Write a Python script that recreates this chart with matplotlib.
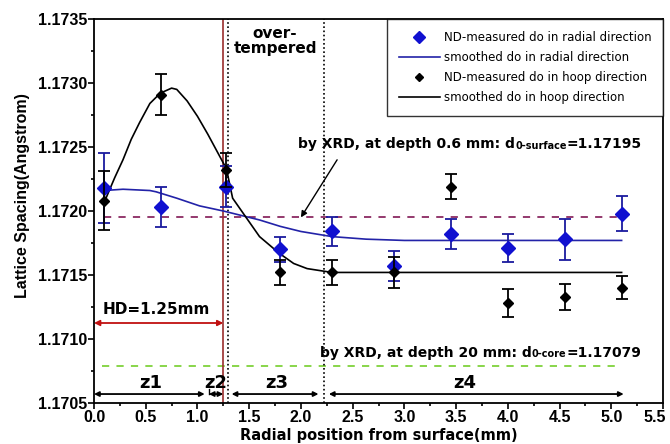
import matplotlib
matplotlib.use('Agg')
import matplotlib.pyplot as plt
from matplotlib.lines import Line2D
from matplotlib.ticker import MultipleLocator, FormatStrFormatter, FuncFormatter

plt.rcParams['font.family'] = ['Liberation Sans', 'DejaVu Sans']

# ---------------------------------------------------------------------------
# Data
# ---------------------------------------------------------------------------
pos = [0.1, 0.65, 1.28, 1.8, 2.3, 2.9, 3.45, 4.0, 4.55, 5.1]

d_radial     = [1.17218, 1.17203, 1.17219, 1.17170, 1.17184, 1.17157, 1.17182, 1.17171, 1.17178, 1.17198]
d_radial_err = [0.00027, 0.000155, 0.00016, 0.00010, 0.000117, 0.00012, 0.00012, 0.00011, 0.00016, 0.000137]

d_hoop       = [1.17208, 1.17291, 1.17232, 1.17152, 1.17152, 1.17152, 1.17219, 1.17128, 1.17133, 1.17140]
d_hoop_err   = [0.00023, 0.00016, 0.00013, 0.00010, 0.00010, 0.00012, 0.00010, 0.00011, 0.00010, 0.00009]

# smoothed profiles
smooth_rad_x = [0.1, 0.28, 0.54, 0.6, 0.8, 1.02, 1.25, 1.6, 1.8, 2.0, 2.3, 2.63, 3.0, 4.0, 5.1]
smooth_rad_y = [1.17216, 1.17217, 1.17216, 1.17215, 1.17210, 1.17204, 1.17200, 1.17193, 1.17188,
                1.17184, 1.17180, 1.17178, 1.17177, 1.17177, 1.17177]

smooth_hoop_x = [0.1, 0.2, 0.28, 0.36, 0.44, 0.54, 0.64, 0.75, 0.8, 0.9, 1.0, 1.1, 1.2, 1.28,
                 1.34, 1.47, 1.6, 1.79, 1.93, 2.06, 2.3, 3.0, 5.1]
smooth_hoop_y = [1.17207, 1.17226, 1.17240, 1.17256, 1.17269, 1.17284, 1.17292, 1.17296, 1.17295,
                 1.17286, 1.17274, 1.17260, 1.17245, 1.17233, 1.17210, 1.17195, 1.17180, 1.17167,
                 1.17159, 1.17155, 1.17152, 1.17152, 1.17152]

d0_surface = 1.17195
d0_core    = 1.17079
hd         = 1.25
zone_edges = [1.3, 2.22]

WIDE = ['DejaVu Sans']   # wider face for the annotation texts

# ---------------------------------------------------------------------------
# Figure
# ---------------------------------------------------------------------------
fig = plt.figure(figsize=(6.7, 4.44), dpi=100)
ax = fig.add_axes([94 / 670, 1 - 403 / 444, 569 / 670, 384 / 444])

ax.set_xlim(0, 5.5)
ax.set_ylim(1.1705, 1.1735)

# reference levels from XRD
ax.plot([0.1, 5.1], [d0_surface, d0_surface], color='#8B2A62', lw=1.3, ls=(0, (4, 4)))
ax.plot([0.08, 5.06], [d0_core, d0_core], color='#7FD23C', lw=1.3, ls=(0, (4, 4)))

# hardened depth and zone boundaries
ax.axvline(hd, color='#9A2E2E', lw=1.2)
for xe in zone_edges:
    ax.axvline(xe, color='black', lw=1.2, ls=(0, (1, 1.5)))

# smoothed curves
ax.plot(smooth_rad_x, smooth_rad_y, color='#2323A8', lw=1.2)
ax.plot(smooth_hoop_x, smooth_hoop_y, color='black', lw=1.2)

# measured points
ax.errorbar(pos, d_radial, yerr=d_radial_err, fmt='D', color='#1010D0', ecolor='#1A1A9E',
            ms=7, capsize=4, elinewidth=1.3, capthick=1.3, zorder=4)
ax.errorbar(pos, d_hoop, yerr=d_hoop_err, fmt='D', color='black', ecolor='black',
            ms=5, capsize=4, elinewidth=1.3, capthick=1.3, zorder=5)

# HD arrow
ax.annotate('', xy=(0.0, 1.171125), xytext=(hd, 1.171125),
            arrowprops=dict(arrowstyle='<|-|>', color='#C01010', lw=1.3,
                            mutation_scale=8, shrinkA=0, shrinkB=0))
ax.text(0.6, 1.171227, 'HD=1.25mm', ha='center', va='center', fontsize=11,
        fontweight='bold', family=WIDE)

# zone arrows
zone_y = 1.17057
for x0, x1 in [(0.0, 1.07), (1.11, 1.25), (1.33, 2.17), (2.27, 5.12)]:
    ax.annotate('', xy=(x0, zone_y), xytext=(x1, zone_y),
                arrowprops=dict(arrowstyle='<|-|>', color='black', lw=1.3,
                                mutation_scale=7, shrinkA=0, shrinkB=0))
ax.plot([1.11, 1.11], [zone_y, 1.17061], color='black', lw=1.0)
for label, xz in [('z1', 0.55), ('z2', 1.18), ('z3', 1.77), ('z4', 3.58)]:
    ax.text(xz, 1.17066, label, ha='center', va='center', fontsize=13, fontweight='bold',
            family=WIDE)

ax.text(1.75, 1.17333, 'over-\ntempered', ha='center', va='center', fontsize=11,
        fontweight='bold', linespacing=1.0, family=WIDE)

# XRD labels with subscripts
def xrd_label(x, y, main, sub, tail):
    t = ax.text(x, y, main, ha='left', va='center', fontsize=10, fontweight='bold',
                family=WIDE)
    fig.canvas.draw()
    bb = t.get_window_extent()
    s = ax.annotate(sub, xy=(bb.x1, bb.y0), xycoords='figure pixels', xytext=(0.5, 0.5),
                    textcoords='offset points', ha='left', va='bottom', fontsize=7,
                    fontweight='bold', family=WIDE)
    fig.canvas.draw()
    bs = s.get_window_extent()
    ax.annotate(tail, xy=(bs.x1, bb.y0), xycoords='figure pixels', xytext=(0, 0),
                textcoords='offset points', ha='left', va='bottom', fontsize=10,
                fontweight='bold', family=WIDE)

xrd_label(1.97, 1.17252, 'by XRD, at depth 0.6 mm: d', '0-surface', '=1.17195')
xrd_label(2.18, 1.17089, 'by XRD, at depth 20 mm: d', '0-core', '=1.17079')

ax.annotate('', xy=(2.0, d0_surface), xytext=(2.35, 1.17240),
            arrowprops=dict(arrowstyle='-|>', color='black', lw=1.0, mutation_scale=9,
                            shrinkA=0, shrinkB=0))

# axes styling
ax.xaxis.set_major_locator(MultipleLocator(0.5))
ax.xaxis.set_minor_locator(MultipleLocator(0.25))
ax.yaxis.set_major_locator(MultipleLocator(0.0005))
ax.yaxis.set_minor_locator(MultipleLocator(0.00025))
ax.yaxis.set_major_formatter(FormatStrFormatter('%.4f'))
# the 5.5 label is drawn separately, nudged left of its tick
ax.xaxis.set_major_formatter(FuncFormatter(lambda v, p: '' if v > 5.4 else f'{v:.1f}'))
ax.tick_params(which='both', direction='out', top=False, right=False, width=1.2)
ax.tick_params(which='major', length=4.5, labelsize=11.5, pad=0.5)
ax.tick_params(which='minor', length=2.5)
for lab in ax.get_xticklabels() + ax.get_yticklabels():
    lab.set_fontweight('bold')
ax.annotate('5.5', xy=(5.5, 0), xycoords=ax.get_xaxis_transform(), xytext=(-6, -5),
            textcoords='offset points', ha='center', va='top', fontsize=11.5,
            fontweight='bold', annotation_clip=False)

for sp in ax.spines.values():
    sp.set_linewidth(1.3)

ax.set_xlabel('Radial position from surface(mm)', fontsize=10.5, fontweight='bold',
              family=WIDE)
ax.xaxis.set_label_coords(0.5, -0.064)
ax.set_ylabel('Lattice Spacing(Angstrom)', fontsize=11.5, fontweight='bold')
ax.yaxis.set_label_coords(-0.112, 0.54)

handles = [
    Line2D([], [], marker='D', color='#1010D0', ls='none', ms=6),
    Line2D([], [], color='#2323A8', lw=1.2),
    Line2D([], [], marker='D', color='black', ls='none', ms=4),
    Line2D([], [], color='black', lw=1.2),
]
labels = ['ND-measured do in radial direction', 'smoothed do in radial direction',
          'ND-measured do in hoop direction', 'smoothed do in hoop direction']
leg = ax.legend(handles, labels, loc='upper right', bbox_to_anchor=(1.0, 1.0),
                prop={'family': WIDE, 'size': 8.5}, frameon=True, fancybox=False,
                edgecolor='black', borderpad=1.0, labelspacing=0.6, handlelength=3.5,
                handletextpad=0.3, borderaxespad=0)
leg.get_frame().set_linewidth(1.0)

fig.savefig('out.png', dpi=100)
